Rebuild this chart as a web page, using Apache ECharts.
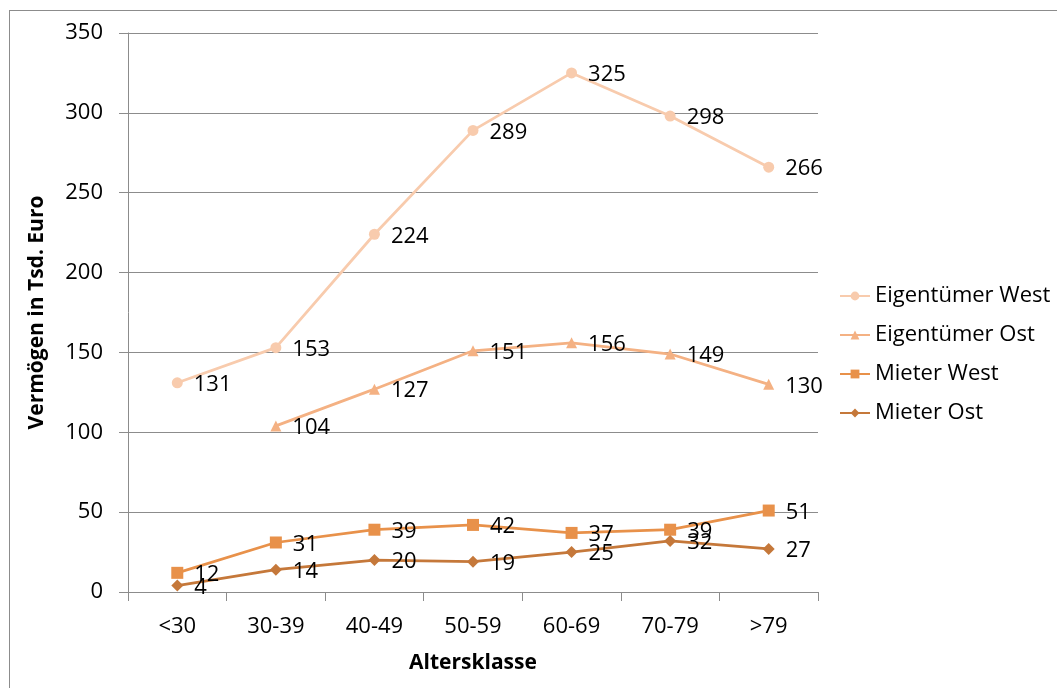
<!DOCTYPE html>
<html>
<head>
<meta charset="utf-8">
<script src="https://cdn.jsdelivr.net/npm/echarts@6/dist/echarts.min.js"></script>
<style>
  html, body { margin: 0; padding: 0; background: #fff; }
  #frame { position: absolute; left: 9px; top: 10px; width: 1100px; height: 740px; border: 1px solid #8c8c8c; box-sizing: border-box; }
  #chart { position: absolute; left: 0; top: 0; width: 1057px; height: 688px; }
</style>
</head>
<body>
<div id="frame"></div>
<div id="chart"></div>
<script>
// Age classes and wealth (thousand euro) by housing status and region
const categories = ['<30', '30-39', '40-49', '50-59', '60-69', '70-79', '>79'];
const eigentuemerWest = [131, 153, 224, 289, 325, 298, 266];
const eigentuemerOst = [null, 104, 127, 151, 156, 149, 130];
const mieterWest = [12, 31, 39, 42, 37, 39, 51];
const mieterOst = [4, 14, 20, 19, 25, 32, 27];

const FONT = 'Open Sans, Liberation Sans, sans-serif';
const FS = 22;

function lineSeries(name, data, color, symbol, size) {
  return {
    name: name,
    type: 'line',
    data: data,
    symbol: symbol,
    symbolSize: size,
    connectNulls: false,
    lineStyle: { color: color, width: 2.75 },
    itemStyle: { color: color },
    label: {
      show: true,
      position: 'right',
      distance: 11,
      offset: [0, 2],
      color: '#000',
      fontSize: FS,
      fontFamily: FONT
    },
    emphasis: { disabled: true }
  };
}

const chart = echarts.init(document.getElementById('chart'));
chart.setOption({
  animation: false,
  grid: { left: 128, top: 33, right: 239, bottom: 96 },
  legend: {
    orient: 'vertical',
    left: 834,
    top: 280,
    itemGap: 17,
    itemWidth: 30,
    itemHeight: 11,
    textStyle: { fontSize: FS, fontFamily: FONT, color: '#000' },
    data: ['Eigentümer West', 'Eigentümer Ost', 'Mieter West', 'Mieter Ost']
  },
  xAxis: {
    type: 'category',
    data: categories,
    boundaryGap: true,
    name: 'Altersklasse',
    nameLocation: 'middle',
    nameGap: 61,
    nameTextStyle: { fontSize: 21, fontWeight: 'bold', fontFamily: FONT, color: '#000' },
    axisLine: { lineStyle: { color: '#8c8c8c', width: 1 } },
    axisTick: { show: true, length: 9, lineStyle: { color: '#8c8c8c' } },
    axisLabel: { fontSize: FS, fontFamily: FONT, color: '#000', margin: 24 }
  },
  yAxis: {
    type: 'value',
    min: 0,
    max: 350,
    interval: 50,
    name: 'Vermögen in Tsd. Euro',
    nameLocation: 'middle',
    nameGap: 80,
    nameRotate: 90,
    nameTextStyle: { fontSize: 21, fontWeight: 'bold', fontFamily: FONT, color: '#000' },
    axisLine: { show: true, lineStyle: { color: '#8c8c8c', width: 1 } },
    axisTick: { show: true, length: 9, lineStyle: { color: '#8c8c8c' } },
    axisLabel: { fontSize: FS, fontFamily: FONT, color: '#000', margin: 25 },
    splitLine: { show: true, lineStyle: { color: '#8c8c8c', width: 1 } }
  },
  series: [
    lineSeries('Eigentümer West', eigentuemerWest, '#F8CBAD', 'circle', 11),
    lineSeries('Eigentümer Ost', eigentuemerOst, '#F4B183', 'triangle', 11),
    lineSeries('Mieter West', mieterWest, '#E8914A', 'rect', 12),
    lineSeries('Mieter Ost', mieterOst, '#C5783A', 'diamond', 12)
  ]
});
</script>
</body>
</html>
